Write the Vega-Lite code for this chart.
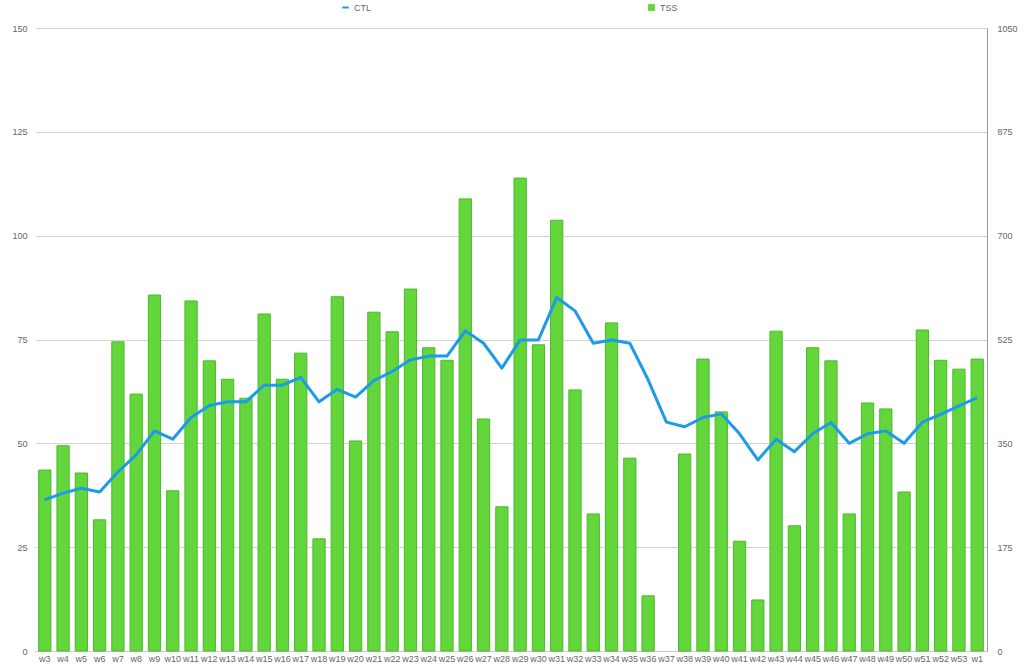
{
  "$schema": "https://vega.github.io/schema/vega-lite/v6.json",
  "autosize": {"type": "none"},
  "padding": {"left": 35, "top": 28, "right": 37, "bottom": 14},
  "width": 952,
  "height": 623,
  "background": "white",
  "config": {
    "view": {"stroke": null},
    "font": "Liberation Sans",
    "axis": {"labelFont": "Liberation Sans", "labelFontSize": 9, "labelColor": "#666666", "ticks": false, "title": null},
    "legend": {"labelFont": "Liberation Sans", "labelFontSize": 9, "labelColor": "#666666"}
  },
  "data": {
    "values": [
      {"w": "w3", "TSS": 305, "CTL": 36.4},
      {"w": "w4", "TSS": 346, "CTL": 38.0},
      {"w": "w5", "TSS": 300, "CTL": 39.2},
      {"w": "w6", "TSS": 221, "CTL": 38.3},
      {"w": "w7", "TSS": 521, "CTL": 43.1},
      {"w": "w8", "TSS": 433, "CTL": 47.2},
      {"w": "w9", "TSS": 600, "CTL": 53.0},
      {"w": "w10", "TSS": 270, "CTL": 51.0},
      {"w": "w11", "TSS": 590, "CTL": 56.2},
      {"w": "w12", "TSS": 489, "CTL": 59.1},
      {"w": "w13", "TSS": 458, "CTL": 60.0},
      {"w": "w14", "TSS": 426, "CTL": 60.0},
      {"w": "w15", "TSS": 568, "CTL": 64.0},
      {"w": "w16", "TSS": 458, "CTL": 64.0},
      {"w": "w17", "TSS": 502, "CTL": 65.9},
      {"w": "w18", "TSS": 189, "CTL": 60.0},
      {"w": "w19", "TSS": 597, "CTL": 63.0},
      {"w": "w20", "TSS": 354, "CTL": 61.1},
      {"w": "w21", "TSS": 571, "CTL": 65.1},
      {"w": "w22", "TSS": 538, "CTL": 67.3},
      {"w": "w23", "TSS": 610, "CTL": 70.1},
      {"w": "w24", "TSS": 511, "CTL": 71.0},
      {"w": "w25", "TSS": 490, "CTL": 71.0},
      {"w": "w26", "TSS": 762, "CTL": 77.1},
      {"w": "w27", "TSS": 391, "CTL": 74.1},
      {"w": "w28", "TSS": 243, "CTL": 68.1},
      {"w": "w29", "TSS": 797, "CTL": 74.9},
      {"w": "w30", "TSS": 516, "CTL": 74.9},
      {"w": "w31", "TSS": 726, "CTL": 85.1},
      {"w": "w32", "TSS": 440, "CTL": 81.9},
      {"w": "w33", "TSS": 231, "CTL": 74.1},
      {"w": "w34", "TSS": 553, "CTL": 74.9},
      {"w": "w35", "TSS": 325, "CTL": 74.1},
      {"w": "w36", "TSS": 93, "CTL": 65.3},
      {"w": "w37", "TSS": 0, "CTL": 55.1},
      {"w": "w38", "TSS": 332, "CTL": 54.0},
      {"w": "w39", "TSS": 492, "CTL": 56.2},
      {"w": "w40", "TSS": 403, "CTL": 57.1},
      {"w": "w41", "TSS": 185, "CTL": 52.3},
      {"w": "w42", "TSS": 86, "CTL": 46.0},
      {"w": "w43", "TSS": 539, "CTL": 51.0},
      {"w": "w44", "TSS": 211, "CTL": 48.0},
      {"w": "w45", "TSS": 511, "CTL": 52.3},
      {"w": "w46", "TSS": 489, "CTL": 55.0},
      {"w": "w47", "TSS": 231, "CTL": 50.0},
      {"w": "w48", "TSS": 418, "CTL": 52.3},
      {"w": "w49", "TSS": 408, "CTL": 53.0},
      {"w": "w50", "TSS": 268, "CTL": 50.0},
      {"w": "w51", "TSS": 541, "CTL": 55.1},
      {"w": "w52", "TSS": 490, "CTL": 57.0},
      {"w": "w53", "TSS": 475, "CTL": 59.0},
      {"w": "w1", "TSS": 492, "CTL": 61.0}
    ]
  },
  "encoding": {
    "x": {
      "field": "w", "type": "nominal", "sort": null,
      "scale": {"paddingInner": 0.33, "paddingOuter": 0.2},
      "axis": {"labelAngle": 0, "labelPadding": 3, "domainColor": "#c8c8c8", "grid": false}
    }
  },
  "layer": [
    {
      "mark": {"type": "bar", "stroke": "#4cb82a"},
      "encoding": {
        "y": {
          "field": "TSS", "type": "quantitative",
          "scale": {"domain": [0, 1050], "nice": false},
          "axis": {"orient": "right", "values": [0, 175, 350, 525, 700, 875, 1050], "format": "d", "grid": false, "domain": true, "domainColor": "#999999", "labelPadding": 10}
        },
        "strokeWidth": {"condition": {"test": "datum.TSS > 0", "value": 1}, "value": 0},
        "fill": {
          "datum": "TSS", "type": "nominal",
          "scale": {"domain": ["TSS"], "range": ["#62d63a"]},
          "legend": {"title": null, "orient": "none", "legendX": 612, "legendY": -25, "symbolType": "square", "symbolSize": 40, "symbolStrokeColor": "#4cb82a", "symbolStrokeWidth": 0.5}
        }
      }
    },
    {
      "mark": {"type": "line", "strokeWidth": 3, "strokeJoin": "round"},
      "encoding": {
        "y": {
          "field": "CTL", "type": "quantitative",
          "scale": {"domain": [0, 150], "nice": false},
          "axis": {"orient": "left", "values": [0, 25, 50, 75, 100, 125, 150], "grid": true, "gridColor": "#d4d4d4", "domain": false, "labelPadding": 8}
        },
        "stroke": {
          "datum": "CTL", "type": "nominal",
          "scale": {"domain": ["CTL"], "range": ["#1b9be8"]},
          "legend": {"title": null, "orient": "none", "legendX": 306, "legendY": -25, "symbolType": "stroke", "symbolSize": 40, "symbolStrokeWidth": 2}
        }
      }
    }
  ],
  "resolve": {"scale": {"y": "independent", "fill": "independent", "stroke": "independent"}}
}
